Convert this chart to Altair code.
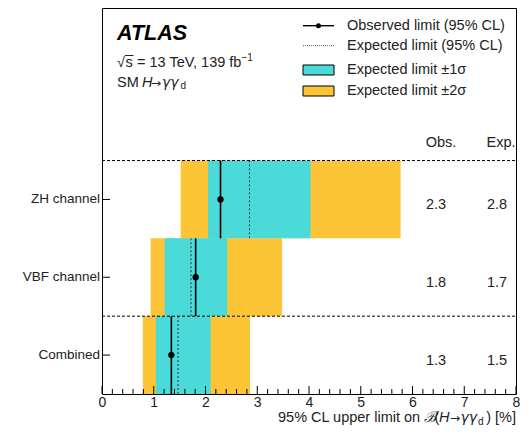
import altair as alt
import pandas as pd

# ---- data ----
channels = ["Combined", "VBF channel", "ZH channel"]
row_pos = [0, 1, 2]
obs = [1.34, 1.81, 2.29]
exp = [1.47, 1.72, 2.85]
minus1 = [1.04, 1.21, 2.05]
plus1 = [2.10, 2.42, 4.03]
minus2 = [0.79, 0.94, 1.52]
plus2 = [2.86, 3.48, 5.77]
obs_txt = ["1.3", "1.8", "2.3"]
exp_txt = ["1.5", "1.7", "2.8"]
separators = [1, 3]
x_major = [0, 1, 2, 3, 4, 5, 6, 7, 8]
x_minor = [i / 5 for i in range(41) if i % 5]

W, H = 414, 386
FONT = "Liberation Sans"
GFONT = "DejaVu Sans"
YELLOW = "#fdc536"
CYAN = "#4adada"

df = pd.DataFrame({
    "channel": channels, "row": row_pos, "top": [r + 1 for r in row_pos],
    "mid": [r + 0.5 for r in row_pos], "obs": obs, "exp": exp,
    "m1": minus1, "p1": plus1, "m2": minus2, "p2": plus2,
    "obs_txt": obs_txt, "exp_txt": exp_txt,
})
one = pd.DataFrame({"a": [0]})

xs = alt.Scale(domain=[0, 8], nice=False, zero=False)
ys = alt.Scale(domain=[0, 4.96], nice=False, zero=False)
xax = alt.Axis(values=x_major, ticks=False, grid=False, domain=False, labelFlush=False,
               labelFontSize=14, labelFont=FONT, labelColor="#222", labelPadding=1,
               title=None, format="d")

base = alt.Chart(df)
band2 = base.mark_rect(color=YELLOW).encode(
    x=alt.X("m2:Q", scale=xs, axis=xax), x2="p2:Q",
    y=alt.Y("row:Q", scale=ys, axis=None), y2="top:Q")
band1 = base.mark_rect(color=CYAN).encode(
    x=alt.X("m1:Q", scale=xs), x2="p1:Q",
    y=alt.Y("row:Q", scale=ys), y2="top:Q")
exp_line = base.mark_rule(color="#333", strokeWidth=1, strokeDash=[2, 2]).encode(
    x=alt.X("exp:Q", scale=xs), y=alt.Y("row:Q", scale=ys), y2="top:Q")
obs_line = base.mark_rule(color="black", strokeWidth=1.6).encode(
    x=alt.X("obs:Q", scale=xs), y=alt.Y("row:Q", scale=ys), y2="top:Q")
obs_pt = base.mark_point(filled=True, color="black", size=40, opacity=1).encode(
    x=alt.X("obs:Q", scale=xs), y=alt.Y("mid:Q", scale=ys))

sep = alt.Chart(pd.DataFrame({"y": separators})).mark_rule(
    color="black", strokeWidth=1, strokeDash=[3, 2]).encode(
    y=alt.Y("y:Q", scale=ys), x=alt.value(0), x2=alt.value(W))

maj = alt.Chart(pd.DataFrame({"v": x_major})).mark_rule(color="black", strokeWidth=1).encode(
    x=alt.X("v:Q", scale=xs), y=alt.value(H), y2=alt.value(H - 8))
mnr = alt.Chart(pd.DataFrame({"v": x_minor})).mark_rule(color="black", strokeWidth=1).encode(
    x=alt.X("v:Q", scale=xs), y=alt.value(H), y2=alt.value(H - 5))
yt = base.mark_rule(color="black", strokeWidth=1).encode(
    y=alt.Y("mid:Q", scale=ys), x=alt.value(0), x2=alt.value(8))

ylab = base.mark_text(align="right", baseline="middle", font=FONT, fontSize=13.5, color="#222").encode(
    y=alt.Y("mid:Q", scale=ys), x=alt.value(-2), text="channel:N")
obs_val = base.mark_text(align="center", baseline="middle", font=FONT, fontSize=14.5, color="#222", dy=6).encode(
    y=alt.Y("mid:Q", scale=ys), x=alt.value(334), text="obs_txt:N")
exp_val = base.mark_text(align="center", baseline="middle", font=FONT, fontSize=14.5, color="#222", dy=6).encode(
    y=alt.Y("mid:Q", scale=ys), x=alt.value(395), text="exp_txt:N")


def txt(s, x, y, size=14.5, align="left", baseline="alphabetic", font=FONT, **kw):
    return alt.Chart(one).mark_text(text=s, align=align, baseline=baseline, font=font,
                                    fontSize=size, color=kw.pop("color", "#222"), **kw).encode(
        x=alt.value(x), y=alt.value(y))


texts = [
    txt("Obs.", 339, 135, baseline="middle", align="center"),
    txt("Exp.", 399, 135, baseline="middle", align="center"),
    txt("ATLAS", 15, 31.5, size=21.5, fontWeight="bold", fontStyle="italic", color="black"),
    txt("√", 15, 58.5),
    txt("s", 23.5, 58.5),
    txt("= 13 TeV, 139 fb", 35, 58.5),
    txt("−1", 139.5, 52.5, size=10),
    txt("SM", 15, 78.5),
    txt("H", 40, 78.5, fontStyle="italic"),
    txt("→", 49, 78.5, size=12, font=GFONT),
    txt("γγ", 60, 78.5, size=14, font=GFONT, fontStyle="italic"),
    txt("d", 78.5, 81, size=10),
    # axis title pieces
    txt("95% CL upper limit on", 176, 414),
    txt("ℬ", 322, 414, fontStyle="italic"),
    txt("(", 332.5, 414),
    txt("H", 337, 414, fontStyle="italic"),
    txt("→", 348, 414, size=12, font=GFONT),
    txt("γγ", 358.5, 414, size=14, font=GFONT, fontStyle="italic"),
    txt("d", 376, 417, size=10),
    txt(") [%]", W, 414, align="right"),
    # legend
    txt("Observed limit (95% CL)", 245, 17.7, baseline="middle"),
    txt("Expected limit (95% CL)", 245, 37.7, baseline="middle"),
    txt("Expected limit ±1σ", 245, 62, baseline="middle"),
    txt("Expected limit ±2σ", 245, 83, baseline="middle"),
]

sqrt_bar = alt.Chart(one).mark_rule(color="#222", strokeWidth=1).encode(
    x=alt.value(23), x2=alt.value(31.5), y=alt.value(47.5))
leg_obs_line = alt.Chart(one).mark_rule(color="black", strokeWidth=1.4).encode(
    x=alt.value(201), x2=alt.value(232), y=alt.value(17.7))
leg_obs_pt = alt.Chart(one).mark_point(filled=True, color="black", size=25, opacity=1).encode(
    x=alt.value(216.5), y=alt.value(17.7))
leg_exp_line = alt.Chart(one).mark_rule(color="#555", strokeWidth=1, strokeDash=[1, 1]).encode(
    x=alt.value(201), x2=alt.value(232), y=alt.value(37.7))
leg_b1 = alt.Chart(one).mark_rect(color=CYAN, stroke="black", strokeWidth=1).encode(
    x=alt.value(201), x2=alt.value(232), y=alt.value(57), y2=alt.value(67))
leg_b2 = alt.Chart(one).mark_rect(color=YELLOW, stroke="black", strokeWidth=1).encode(
    x=alt.value(201), x2=alt.value(232), y=alt.value(78), y2=alt.value(88))

chart = alt.layer(
    band2, band1, exp_line, obs_line, obs_pt, sep, maj, mnr, yt,
    ylab, obs_val, exp_val, *texts, sqrt_bar,
    leg_obs_line, leg_obs_pt, leg_exp_line, leg_b1, leg_b2,
).properties(
    width=W, height=H,
    autosize=alt.AutoSizeParams(type="none"),
    padding={"left": 94, "top": 0, "right": 5, "bottom": 33},
).configure_view(stroke="black", strokeWidth=1)

chart.save("out.html", embed_options={"renderer": "svg", "actions": False})
